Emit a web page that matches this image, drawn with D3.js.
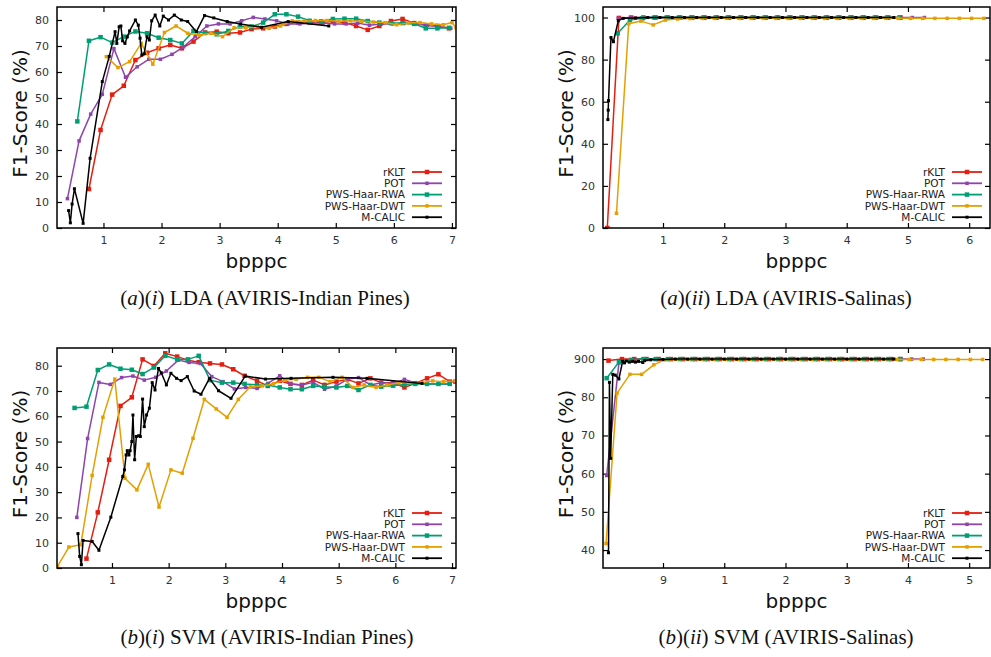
<!DOCTYPE html>
<html>
<head>
<meta charset="utf-8">
<script src="https://cdn.jsdelivr.net/npm/d3@7"></script>
<style>
  body { margin: 0; background: #fff; }
  svg { display: block; }
</style>
</head>
<body>
<div id="chart"></div>
<script>
var width = 991;
var height = 657;

// legend names and colours, same order in all four panels
var seriesNames = ["rKLT", "POT", "PWS-Haar-RWA", "PWS-Haar-DWT", "M-CALIC"];
var seriesColors = ["#e51e10", "#8e44ad", "#009e73", "#e69f00", "#000000"];

// (a)(i) LDA, AVIRIS-Indian Pines  [bpppc, F1]
var ldaPinesRklt = [[0.75,15],[0.95,37.7],[1.15,51.3],[1.35,54.7],[1.55,64.6],[1.75,67.4],[1.95,69.1],[2.15,70.4],[2.35,69.1],[2.55,71.7],[2.75,75.2],[2.95,75.5],[3.15,74.9],[3.35,75.2],[3.55,76.5],[3.75,76.8],[3.95,77.5],[4.15,78.5],[4.35,79],[4.55,79],[4.75,79],[4.95,79.5],[5.15,79],[5.35,77.7],[5.55,76.2],[5.75,77.7],[5.95,79.6],[6.15,80.4],[6.35,78.8],[6.55,78],[6.75,77.7],[6.95,76.8]];
var ldaPinesPot = [[0.38,11.3],[0.58,33.5],[0.78,43.8],[0.98,51.4],[1.18,69],[1.38,58],[1.58,62],[1.78,64.9],[1.98,64.9],[2.18,66.8],[2.38,69.7],[2.58,73.6],[2.78,77.7],[2.98,78.5],[3.18,78.5],[3.38,79.7],[3.58,81],[3.78,80.4],[3.98,79.7],[4.18,78.5],[4.38,78.5],[4.58,78.8],[4.78,78.8],[4.98,78.5],[5.18,78.5],[5.38,78.8],[5.58,78],[5.78,78.5],[5.98,78.5],[6.18,78.8],[6.38,78.5],[6.58,78],[6.78,77.5],[6.98,76.8]];
var ldaPinesRwa = [[0.55,41],[0.75,72],[0.95,73.4],[1.15,71.3],[1.35,73.6],[1.55,75.6],[1.75,74.9],[1.95,73.2],[2.15,72.3],[2.35,71],[2.55,75.8],[2.75,75],[2.95,74.5],[3.15,75.8],[3.35,77.5],[3.55,77.5],[3.75,79],[3.95,82.2],[4.15,82.2],[4.35,81.3],[4.55,79.7],[4.75,79.5],[4.95,80.4],[5.15,80.5],[5.35,80.5],[5.55,79.6],[5.75,79],[5.95,78.8],[6.15,78.8],[6.35,78.5],[6.55,76.8],[6.75,76.8],[6.95,77]];
var ldaPinesDwt = [[1.05,65.9],[1.25,61.7],[1.45,64],[1.65,71],[1.85,63],[2.05,75.2],[2.25,77.7],[2.45,74.9],[2.65,74.2],[2.85,74.9],[3.05,73.6],[3.25,77],[3.45,77],[3.65,77.5],[3.85,76.8],[4.05,77.7],[4.25,79.7],[4.45,79.5],[4.65,79.8],[4.85,79.8],[5.05,79.5],[5.25,79.7],[5.45,79.5],[5.65,79.2],[5.85,79],[6.05,78.2],[6.25,78.8],[6.45,79],[6.65,78.5],[6.85,78.2],[7.0,79],[7.07,77]];
var ldaPinesCalic = [[0.4,6.7],[0.43,2],[0.46,9.2],[0.5,15.1],[0.65,1.8],[0.77,26.8],[0.98,56.3],[1.1,66],[1.2,75.5],[1.23,71],[1.27,77.4],[1.3,77.7],[1.33,72],[1.37,71],[1.41,73.5],[1.45,75.8],[1.55,80],[1.6,78],[1.63,73],[1.66,66.5],[1.7,67],[1.75,73.6],[1.79,72.3],[1.83,79.7],[1.89,81.9],[1.97,77.7],[2.03,81.5],[2.12,80],[2.22,81.9],[2.34,80],[2.45,79.4],[2.6,75.5],[2.74,81.7],[2.9,80.8],[3.13,79.4],[3.36,78.5],[3.72,77.2],[4.18,79.4],[4.88,77.7]];

// (a)(ii) LDA, AVIRIS-Salinas
var ldaSalinasRklt = [[0.09,0],[0.28,99.8],[0.48,100],[0.68,100],[0.88,100],[1.08,100],[1.28,100],[1.48,100],[1.68,100],[1.88,100],[2.08,100],[2.28,100],[2.48,100],[2.68,100],[2.88,100],[3.08,100],[3.28,100],[3.48,100],[3.68,100],[3.88,100],[4.08,100],[4.28,100],[4.48,100],[4.68,100],[4.88,100]];
var ldaSalinasPot = [[0.27,99.7],[0.47,100],[0.67,100],[0.87,100],[1.07,100],[1.27,100],[1.47,100],[1.67,100],[1.87,100],[2.07,100],[2.27,100],[2.47,100],[2.67,100],[2.87,100],[3.07,100],[3.27,100],[3.47,100],[3.67,100],[3.87,100],[4.07,100],[4.27,100],[4.47,100],[4.67,100],[4.87,100],[5.07,100],[5.27,100]];
var ldaSalinasRwa = [[0.26,92.5],[0.46,98.8],[0.66,99.6],[0.86,100],[1.06,100],[1.26,100],[1.46,100],[1.66,100],[1.86,100],[2.06,100],[2.26,100],[2.46,100],[2.66,100],[2.86,100],[3.06,100],[3.26,100],[3.46,100],[3.66,100],[3.86,100],[4.06,100],[4.26,100],[4.46,100],[4.66,100],[4.86,100]];
var ldaSalinasDwt = [[0.24,7],[0.44,97],[0.64,98.3],[0.84,96.5],[1.04,98.8],[1.24,99.3],[1.44,99.5],[1.64,99.6],[1.84,99.6],[2.04,99.6],[2.24,99.6],[2.44,99.6],[2.64,99.6],[2.84,99.6],[3.04,99.6],[3.24,99.6],[3.44,99.6],[3.64,99.6],[3.84,99.6],[4.04,99.6],[4.24,99.6],[4.44,99.6],[4.64,99.6],[4.84,99.6],[5.04,99.6],[5.24,99.6],[5.44,99.6],[5.64,99.6],[5.84,99.6],[6.04,99.6],[6.24,99.6]];
var ldaSalinasCalic = [[0.1,51.5],[0.105,56],[0.11,60.5],[0.15,90.5],[0.19,88.5],[0.27,98.5],[0.35,99.6],[0.55,99.8],[0.75,100],[0.95,100],[1.15,100],[1.35,100],[1.55,100],[1.75,100],[1.95,100],[2.15,100],[2.35,100],[2.55,100],[2.75,100],[2.95,100],[3.15,100],[3.35,100],[3.55,100],[3.75,100],[3.95,100],[4.15,100],[4.35,100],[4.55,100],[4.77,100]];

// (b)(i) SVM, AVIRIS-Indian Pines
var svmPinesRklt = [[0.55,3.7],[0.75,22],[0.95,42.8],[1.15,64.1],[1.35,67.5],[1.54,82.5],[1.74,79.9],[1.94,84.9],[2.15,83.6],[2.34,82.2],[2.53,81.4],[2.73,80.9],[2.94,80.5],[3.14,78.6],[3.34,76],[3.56,74],[3.75,72],[3.96,74],[4.15,72.8],[4.35,72.4],[4.55,74.3],[4.75,72.4],[4.96,73.7],[5.15,74.6],[5.35,73],[5.56,75],[5.75,73.3],[5.96,73.3],[6.16,71.4],[6.35,73],[6.56,75],[6.76,76.6],[6.96,73.7],[7.06,73.7]];
var svmPinesPot = [[0.38,20],[0.57,51.2],[0.77,73.4],[0.97,72.6],[1.17,75.3],[1.37,75.9],[1.57,74.3],[1.77,75.4],[1.96,77.9],[2.17,82.2],[2.36,81.3],[2.56,80.9],[2.76,75.7],[2.96,73.7],[3.16,70.8],[3.36,71.4],[3.56,71],[3.75,73],[3.96,76],[4.15,72.8],[4.35,72.4],[4.55,73.4],[4.75,70.7],[4.96,72],[5.15,74.6],[5.35,75.3],[5.56,72.4],[5.75,73.3],[5.96,73],[6.16,74.6],[6.35,73.3],[6.56,72.8],[6.76,72.8],[6.96,72.8]];
var svmPinesRwa = [[0.34,63.3],[0.55,63.8],[0.75,78.3],[0.95,80.5],[1.15,78.8],[1.35,78.4],[1.54,76.7],[1.74,79.3],[1.94,83.9],[2.15,82.5],[2.34,82.5],[2.53,83.9],[2.73,74.3],[2.94,73.3],[3.14,73.3],[3.34,72.8],[3.56,72.4],[3.75,72.4],[3.96,71.4],[4.15,70.7],[4.35,70.7],[4.55,72],[4.75,71.7],[4.96,71.4],[5.15,72],[5.35,70.4],[5.56,72.4],[5.75,71.7],[5.96,72.1],[6.16,72.6],[6.35,72.8],[6.56,72.8],[6.76,72.8],[6.96,72.8]];
var svmPinesDwt = [[0.04,0.7],[0.24,8.3],[0.45,9.2],[0.65,36.6],[0.84,59.6],[1.05,74.7],[1.23,35.5],[1.44,30.9],[1.64,41],[1.83,24.1],[2.04,38.8],[2.24,37.5],[2.43,51.3],[2.63,66.7],[2.84,62.9],[3.03,59.6],[3.23,66.7],[3.44,71.7],[3.65,72],[3.85,72.8],[4.05,74.3],[4.25,74.6],[4.45,75.4],[4.65,75.4],[4.85,73.7],[5.06,75.4],[5.25,71.4],[5.45,72.4],[5.66,71.4],[5.85,72.4],[6.06,73.3],[6.26,73.3],[6.46,73.3],[6.66,74],[6.85,73.7],[7.06,74]];
var svmPinesCalic = [[0.4,13.6],[0.43,4.6],[0.46,1.3],[0.49,10.9],[0.65,10.5],[0.77,7],[0.98,20.1],[1.19,36.2],[1.22,38.8],[1.25,44.7],[1.27,46.4],[1.3,44.7],[1.32,46.4],[1.35,50],[1.37,60.5],[1.4,42.8],[1.43,52],[1.47,52.3],[1.5,52],[1.54,66.8],[1.57,55.9],[1.61,60.5],[1.66,63.2],[1.71,73.3],[1.76,70.4],[1.82,78.9],[1.87,77.2],[1.96,72.4],[2.04,77],[2.14,75],[2.22,74.1],[2.33,75.7],[2.45,70],[2.57,68.7],[2.72,75],[2.88,70.1],[3.1,67.1],[3.35,75.9],[3.71,74.7],[4.16,75],[4.9,75.4],[5.5,75],[6.47,73]];

// (b)(ii) SVM, AVIRIS-Salinas (tick "9" sits where 0 would be)
var svmSalinasRklt = [[-0.89,89.6],[-0.67,90],[-0.47,90],[-0.27,90],[-0.07,90],[0.13,90],[0.33,90],[0.53,90],[0.73,90],[0.93,90],[1.13,90],[1.33,90],[1.53,90],[1.73,90],[1.93,90],[2.13,90],[2.33,90],[2.53,90],[2.73,90],[2.93,90],[3.13,90],[3.33,90],[3.53,90],[3.73,90],[3.88,90]];
var svmSalinasPot = [[-0.92,59.5],[-0.72,89],[-0.52,89.8],[-0.32,90],[-0.12,90],[0.08,90],[0.28,90],[0.48,90],[0.68,90],[0.88,90],[1.08,90],[1.28,90],[1.48,90],[1.68,90],[1.88,90],[2.08,90],[2.28,90],[2.48,90],[2.68,90],[2.88,90],[3.08,90],[3.28,90],[3.48,90],[3.68,90],[3.88,90],[4.06,90],[4.25,90]];
var svmSalinasRwa = [[-0.92,85],[-0.72,89.2],[-0.52,89.8],[-0.32,90],[-0.12,90],[0.08,90],[0.28,90],[0.48,90],[0.68,90],[0.88,90],[1.08,90],[1.28,90],[1.48,90],[1.68,90],[1.88,90],[2.08,90],[2.28,90],[2.48,90],[2.68,90],[2.88,90],[3.08,90],[3.28,90],[3.48,90],[3.68,90],[3.87,90]];
var svmSalinasDwt = [[-0.93,41.7],[-0.75,81.1],[-0.54,86],[-0.35,86],[-0.15,88.5],[0.02,89.8],[0.22,89.9],[0.42,89.9],[0.62,89.9],[0.82,89.9],[1.02,89.9],[1.22,89.9],[1.42,89.9],[1.62,89.9],[1.82,89.9],[2.02,89.9],[2.22,89.9],[2.42,89.9],[2.62,89.9],[2.82,89.9],[3.02,89.9],[3.22,89.9],[3.42,89.9],[3.62,89.9],[3.82,89.9],[4.02,89.9],[4.22,89.9],[4.42,89.9],[4.62,89.9],[4.82,89.9],[5.02,89.9],[5.22,89.9]];
var svmSalinasCalic = [[-0.89,39.3],[-0.875,83.9],[-0.855,64],[-0.82,86],[-0.78,85.8],[-0.72,84.8],[-0.66,89.4],[-0.63,89],[-0.6,89.5],[-0.55,89.2],[-0.5,89.4],[-0.45,89.2],[-0.4,89.4],[-0.33,89.1],[-0.3,89.6],[-0.2,89.8],[0,89.9],[0.2,90],[0.4,90],[0.6,90],[0.8,90],[1,90],[1.2,90],[1.4,90],[1.6,90],[1.8,90],[2,90],[2.2,90],[2.4,90],[2.6,90],[2.8,90],[3,90],[3.2,90],[3.4,90],[3.6,90],[3.77,90]];

// axis ticks
var ticksPinesX = [1, 2, 3, 4, 5, 6, 7];
var ticksPinesY = [0, 10, 20, 30, 40, 50, 60, 70, 80];
var ticksSalLdaX = [1, 2, 3, 4, 5, 6];
var ticksSalLdaY = [0, 20, 40, 60, 80, 100];
var ticksSalSvmX = [0, 1, 2, 3, 4, 5];
var labelsSalSvmX = ["9", "1", "2", "3", "4", "5"];
var ticksSalSvmY = [40, 50, 60, 70, 80, 90];
var labelsSalSvmY = ["40", "50", "60", "70", "80", "900"];

var panels = [
  { left: 57, right: 456, top: 7, bottom: 228, xDomain: [0.2, 7.07], yDomain: [0, 85],
    xTicks: ticksPinesX, yTicks: ticksPinesY,
    data: [ldaPinesRklt, ldaPinesPot, ldaPinesRwa, ldaPinesDwt, ldaPinesCalic],
    legendX: 405, legendY: 172, cap: ["a", "i", " LDA (AVIRIS-Indian Pines)"], capX: 265, capY: 305 },
  { left: 603, right: 990, top: 7, bottom: 228, xDomain: [0.02, 6.34], yDomain: [0, 105],
    xTicks: ticksSalLdaX, yTicks: ticksSalLdaY,
    data: [ldaSalinasRklt, ldaSalinasPot, ldaSalinasRwa, ldaSalinasDwt, ldaSalinasCalic],
    legendX: 945, legendY: 172, cap: ["a", "ii", " LDA (AVIRIS-Salinas)"], capX: 786, capY: 305 },
  { left: 57, right: 456, top: 348, bottom: 568, xDomain: [0.03, 7.07], yDomain: [0, 87],
    xTicks: ticksPinesX, yTicks: ticksPinesY,
    data: [svmPinesRklt, svmPinesPot, svmPinesRwa, svmPinesDwt, svmPinesCalic],
    legendX: 405, legendY: 513, cap: ["b", "i", " SVM (AVIRIS-Indian Pines)"], capX: 267, capY: 644 },
  { left: 603, right: 990, top: 348, bottom: 568, xDomain: [-0.98, 5.34], yDomain: [35.3, 92.9],
    xTicks: ticksSalSvmX, xLabels: labelsSalSvmX, yTicks: ticksSalSvmY, yLabels: labelsSalSvmY,
    data: [svmSalinasRklt, svmSalinasPot, svmSalinasRwa, svmSalinasDwt, svmSalinasCalic],
    legendX: 945, legendY: 513, cap: ["b", "ii", " SVM (AVIRIS-Salinas)"], capX: 786, capY: 644 }
];

var markerSize = [4.5, 3.5, 4.5, 3.5, 3];
var tickLen = 5;

var svg = d3.select("#chart").append("svg")
  .attr("width", width)
  .attr("height", height)
  .style("font-family", "'DejaVu Sans', sans-serif");

panels.forEach(function(p, pi) {
  var x = d3.scaleLinear().domain(p.xDomain).range([p.left, p.right]);
  var y = d3.scaleLinear().domain(p.yDomain).range([p.bottom, p.top]);
  var g = svg.append("g");

  var clipId = "clip" + pi;
  svg.append("clipPath").attr("id", clipId)
    .append("rect")
    .attr("x", p.left).attr("y", p.top)
    .attr("width", p.right - p.left).attr("height", p.bottom - p.top);

  // ticks, mirrored on all four sides and pointing inward
  var xAxisB = d3.axisBottom(x).tickValues(p.xTicks).tickSizeInner(-tickLen).tickSizeOuter(0)
    .tickFormat(function(d, i) { return p.xLabels ? p.xLabels[i] : d; });
  var xAxisT = d3.axisTop(x).tickValues(p.xTicks).tickSizeInner(-tickLen).tickSizeOuter(0).tickFormat("");
  var yAxisL = d3.axisLeft(y).tickValues(p.yTicks).tickSizeInner(-tickLen).tickSizeOuter(0)
    .tickFormat(function(d, i) { return p.yLabels ? p.yLabels[i] : d; });
  var yAxisR = d3.axisRight(y).tickValues(p.yTicks).tickSizeInner(-tickLen).tickSizeOuter(0).tickFormat("");

  var axes = [
    g.append("g").attr("transform", "translate(0," + p.bottom + ")").call(xAxisB),
    g.append("g").attr("transform", "translate(0," + p.top + ")").call(xAxisT),
    g.append("g").attr("transform", "translate(" + p.left + ",0)").call(yAxisL),
    g.append("g").attr("transform", "translate(" + p.right + ",0)").call(yAxisR)
  ];
  axes.forEach(function(a) {
    a.select(".domain").remove();
    a.selectAll("line").attr("stroke", "#000").attr("stroke-width", 1.2);
    a.selectAll("text").attr("fill", "#333").style("font-size", "11px")
      .style("font-family", "'DejaVu Sans', sans-serif");
  });
  axes[0].selectAll("text").attr("y", 8);
  axes[2].selectAll("text").attr("x", -8);

  // series lines + markers
  var line = d3.line().x(function(d) { return x(d[0]); }).y(function(d) { return y(d[1]); });
  var plot = g.append("g").attr("clip-path", "url(#" + clipId + ")");
  p.data.forEach(function(ser, si) {
    plot.append("path").datum(ser)
      .attr("d", line)
      .attr("fill", "none")
      .attr("stroke", seriesColors[si])
      .attr("stroke-width", 1.5)
      .attr("stroke-linejoin", "round");
    var s = markerSize[si];
    plot.selectAll(null).data(ser).enter().append("rect")
      .attr("x", function(d) { return x(d[0]) - s / 2; })
      .attr("y", function(d) { return y(d[1]) - s / 2; })
      .attr("width", s).attr("height", s)
      .attr("fill", seriesColors[si]);
  });

  // frame
  g.append("rect")
    .attr("x", p.left).attr("y", p.top)
    .attr("width", p.right - p.left).attr("height", p.bottom - p.top)
    .attr("fill", "none").attr("stroke", "#000").attr("stroke-width", 1.5);

  // legend (bottom right)
  var lg = g.append("g");
  seriesNames.forEach(function(name, si) {
    var ly = p.legendY + si * 11.3;
    lg.append("text")
      .attr("x", p.legendX).attr("y", ly)
      .attr("dy", "0.35em")
      .attr("text-anchor", "end")
      .attr("fill", "#222")
      .style("font-size", "10.5px")
      .text(name);
    lg.append("line")
      .attr("x1", p.legendX + 7).attr("x2", p.legendX + 37)
      .attr("y1", ly).attr("y2", ly)
      .attr("stroke", seriesColors[si]).attr("stroke-width", 1.8);
    lg.append("rect")
      .attr("x", p.legendX + 22 - markerSize[si] / 2).attr("y", ly - markerSize[si] / 2)
      .attr("width", markerSize[si]).attr("height", markerSize[si])
      .attr("fill", seriesColors[si]);
  });

  // axis titles
  g.append("text")
    .attr("x", (p.left + p.right) / 2).attr("y", p.bottom + 40)
    .attr("text-anchor", "middle")
    .attr("fill", "#111")
    .style("font-size", "20px")
    .text("bpppc");
  var ty = (p.top + p.bottom) / 2 - 4;
  g.append("text")
    .attr("transform", "translate(" + (p.left - 30) + "," + ty + ") rotate(-90)")
    .attr("text-anchor", "middle")
    .attr("fill", "#111")
    .style("font-size", "20px")
    .text("F1-Score (%)");

  // caption under the panel
  var cap = g.append("text")
    .attr("x", p.capX).attr("y", p.capY)
    .attr("text-anchor", "middle")
    .attr("fill", "#111")
    .style("font-family", "'Liberation Serif', 'Times New Roman', serif")
    .style("font-size", "21px");
  cap.append("tspan").text("(");
  cap.append("tspan").style("font-style", "italic").text(p.cap[0]);
  cap.append("tspan").text(")(");
  cap.append("tspan").style("font-style", "italic").text(p.cap[1]);
  cap.append("tspan").text(")" + p.cap[2]);
});
</script>
</body>
</html>
